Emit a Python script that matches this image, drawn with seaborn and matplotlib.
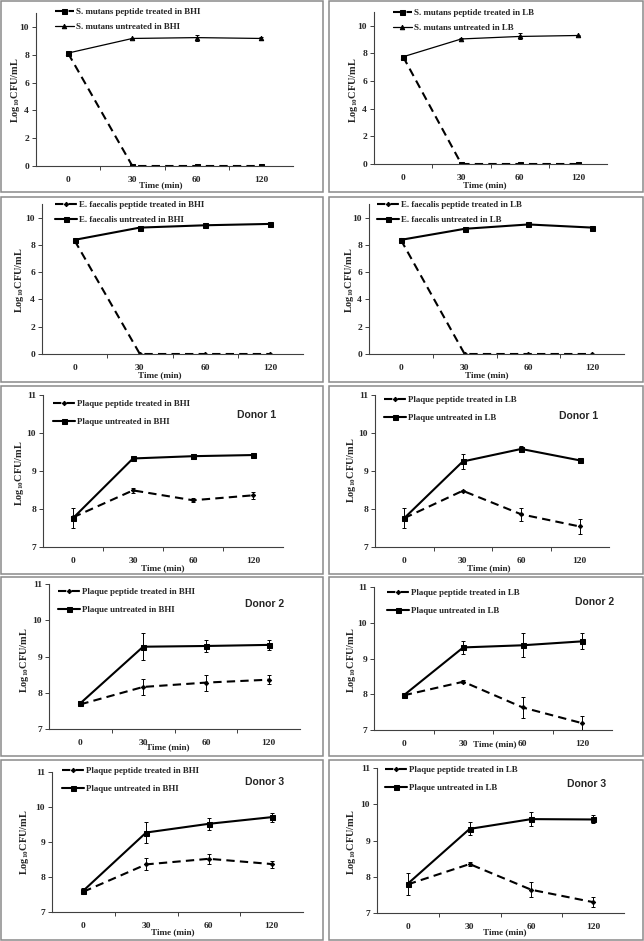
import numpy as np
import matplotlib
matplotlib.use("Agg")
import matplotlib.pyplot as plt
import seaborn as sns
from matplotlib.patches import Rectangle

# time points (categorical axis)
times = ["0", "30", "60", "120"]

# S. mutans
smut_bhi_peptide = [8.1, 0.0, 0.0, 0.0]
smut_bhi_untreated = [8.12, 9.17, 9.23, 9.17]
smut_bhi_untreated_err = [0.0, 0.04, 0.22, 0.1]
smut_lb_peptide = [7.76, 0.0, 0.0, 0.0]
smut_lb_untreated = [7.76, 9.05, 9.23, 9.3]
smut_lb_untreated_err = [0.0, 0.04, 0.22, 0.05]

# E. faecalis
efae_bhi_peptide = [8.32, 0.0, 0.0, 0.0]
efae_bhi_untreated = [8.37, 9.27, 9.44, 9.54]
efae_lb_peptide = [8.37, 0.0, 0.0, 0.0]
efae_lb_untreated = [8.37, 9.18, 9.5, 9.27]
zero_err = [0.0, 0.0, 0.0, 0.0]

# plaque, donor 1
d1_bhi_peptide = [7.78, 8.49, 8.23, 8.36]
d1_bhi_peptide_err = [0.03, 0.07, 0.05, 0.1]
d1_bhi_untreated = [7.76, 9.33, 9.39, 9.42]
d1_bhi_untreated_err = [0.26, 0.04, 0.07, 0.04]
d1_lb_peptide = [7.76, 8.48, 7.86, 7.54]
d1_lb_peptide_err = [0.03, 0.03, 0.17, 0.2]
d1_lb_untreated = [7.76, 9.25, 9.58, 9.28]
d1_lb_untreated_err = [0.27, 0.21, 0.09, 0.02]

# plaque, donor 2
d2_bhi_peptide = [7.68, 8.16, 8.28, 8.36]
d2_bhi_peptide_err = [0.03, 0.21, 0.22, 0.12]
d2_bhi_untreated = [7.71, 9.27, 9.29, 9.32]
d2_bhi_untreated_err = [0.05, 0.37, 0.16, 0.13]
d2_lb_peptide = [7.97, 8.35, 7.63, 7.19]
d2_lb_peptide_err = [0.03, 0.04, 0.3, 0.2]
d2_lb_untreated = [7.97, 9.31, 9.37, 9.48]
d2_lb_untreated_err = [0.04, 0.19, 0.33, 0.22]

# plaque, donor 3
d3_bhi_peptide = [7.58, 8.36, 8.52, 8.37]
d3_bhi_peptide_err = [0.05, 0.17, 0.14, 0.1]
d3_bhi_untreated = [7.61, 9.27, 9.52, 9.71]
d3_bhi_untreated_err = [0.08, 0.29, 0.18, 0.13]
d3_lb_peptide = [7.79, 8.35, 7.64, 7.3]
d3_lb_peptide_err = [0.05, 0.06, 0.21, 0.14]
d3_lb_untreated = [7.81, 9.32, 9.59, 9.58]
d3_lb_untreated_err = [0.3, 0.18, 0.2, 0.11]

W, H = 644, 941

sns.set_style("white")
plt.rcParams["font.family"] = ["Liberation Serif", "DejaVu Serif"]
plt.rcParams["font.weight"] = "bold"
plt.rcParams["mathtext.fontset"] = "custom"
plt.rcParams["mathtext.rm"] = "Liberation Serif:bold"
plt.rcParams["mathtext.default"] = "rm"

fig = plt.figure(figsize=(W / 100, H / 100), dpi=100)


def fx(px):
    return px / W


def fy(py):
    return 1 - py / H


# layout in pixels: axes (l, t, r, b), box (l, t, r, b), legend (x, top), ylabel (x, y), xlabel (x, y), donor text (x, y)
panels = [
    dict(ax=(36, 13, 293, 166), box=(1, 1, 323, 192), leg=(55, 8), yl=(15, 90), xl=(161, 185),
         pep=smut_bhi_peptide, pep_err=zero_err, unt=smut_bhi_untreated, unt_err=smut_bhi_untreated_err,
         labels=("S. mutans peptide treated in BHI", "S. mutans untreated in BHI"), kind="smut"),
    dict(ax=(374, 12, 607, 164), box=(329, 1, 643, 192), leg=(393, 9), yl=(354, 90), xl=(485, 185),
         pep=smut_lb_peptide, pep_err=zero_err, unt=smut_lb_untreated, unt_err=smut_lb_untreated_err,
         labels=("S. mutans peptide treated in LB", "S. mutans untreated in LB"), kind="smut"),
    dict(ax=(42, 204, 303, 354), box=(1, 197, 323, 382), leg=(55, 201), yl=(20, 280), xl=(160, 375),
         pep=efae_bhi_peptide, pep_err=zero_err, unt=efae_bhi_untreated, unt_err=zero_err,
         labels=("E. faecalis peptide treated in BHI", "E. faecalis untreated in BHI"), kind="efae"),
    dict(ax=(369, 204, 624, 354), box=(329, 197, 643, 382), leg=(377, 201), yl=(349, 280), xl=(487, 375),
         pep=efae_lb_peptide, pep_err=zero_err, unt=efae_lb_untreated, unt_err=zero_err,
         labels=("E. faecalis peptide treated in LB", "E. faecalis untreated in LB"), kind="efae"),
    dict(ax=(43, 395, 283, 547), box=(1, 386, 323, 574), leg=(53, 400), yl=(20, 473), xl=(163, 568),
         pep=d1_bhi_peptide, pep_err=d1_bhi_peptide_err, unt=d1_bhi_untreated, unt_err=d1_bhi_untreated_err,
         labels=("Plaque peptide treated in BHI", "Plaque untreated in BHI"), kind="plaque",
         donor="Donor 1", dpos=(257, 415)),
    dict(ax=(375, 395, 609, 547), box=(329, 386, 643, 574), leg=(384, 396), yl=(352, 470), xl=(489, 568),
         pep=d1_lb_peptide, pep_err=d1_lb_peptide_err, unt=d1_lb_untreated, unt_err=d1_lb_untreated_err,
         labels=("Plaque peptide treated in LB", "Plaque untreated in LB"), kind="plaque",
         donor="Donor 1", dpos=(579, 416)),
    dict(ax=(49, 584, 300, 729), box=(1, 577, 323, 756), leg=(58, 588), yl=(25, 660), xl=(168, 747),
         pep=d2_bhi_peptide, pep_err=d2_bhi_peptide_err, unt=d2_bhi_untreated, unt_err=d2_bhi_untreated_err,
         labels=("Plaque peptide treated in BHI", "Plaque untreated in BHI"), kind="plaque",
         donor="Donor 2", dpos=(265, 604)),
    dict(ax=(374, 587, 612, 730), box=(329, 577, 643, 756), leg=(387, 589), yl=(352, 660), xl=(495, 744),
         pep=d2_lb_peptide, pep_err=d2_lb_peptide_err, unt=d2_lb_untreated, unt_err=d2_lb_untreated_err,
         labels=("Plaque peptide treated in LB", "Plaque untreated in LB"), kind="plaque",
         donor="Donor 2", dpos=(595, 602)),
    dict(ax=(52, 772, 303, 912), box=(1, 760, 323, 940), leg=(62, 767), yl=(25, 842), xl=(173, 932),
         pep=d3_bhi_peptide, pep_err=d3_bhi_peptide_err, unt=d3_bhi_untreated, unt_err=d3_bhi_untreated_err,
         labels=("Plaque peptide treated in BHI", "Plaque untreated in BHI"), kind="plaque",
         donor="Donor 3", dpos=(265, 782)),
    dict(ax=(377, 768, 624, 913), box=(329, 760, 643, 940), leg=(385, 766), yl=(352, 842), xl=(505, 932),
         pep=d3_lb_peptide, pep_err=d3_lb_peptide_err, unt=d3_lb_untreated, unt_err=d3_lb_untreated_err,
         labels=("Plaque peptide treated in LB", "Plaque untreated in LB"), kind="plaque",
         donor="Donor 3", dpos=(587, 784)),
]

x = np.arange(len(times))

for p in panels:
    l, t, r, b = p["ax"]
    ax = fig.add_axes([fx(l), fy(b), fx(r - l), (b - t) / H])

    if p["kind"] == "smut":
        pep_marker, pep_ms = "s", 3.6
        unt_marker, unt_ms, unt_lw = "^", 3.2, 0.9
    else:
        pep_marker, pep_ms = "D", 2.2
        unt_marker, unt_ms, unt_lw = "s", 3.6, 1.5

    sns.lineplot(x=x, y=p["pep"], ax=ax, color="k", lw=1.5, linestyle=(0, (4, 2.5)),
                 marker=pep_marker, ms=pep_ms, mec="k", mfc="k", label=p["labels"][0])
    sns.lineplot(x=x, y=p["unt"], ax=ax, color="k", lw=unt_lw,
                 marker=unt_marker, ms=unt_ms, mec="k", mfc="k", label=p["labels"][1])
    ax.errorbar(x, p["pep"], yerr=p["pep_err"], fmt="none", ecolor="k", elinewidth=0.7, capsize=1.6, capthick=0.7)
    ax.errorbar(x, p["unt"], yerr=p["unt_err"], fmt="none", ecolor="k", elinewidth=0.7, capsize=1.6, capthick=0.7)

    if p["kind"] == "plaque":
        ax.set_ylim(7, 11)
        ax.set_yticks([7, 8, 9, 10, 11])
    else:
        ax.set_ylim(0, 11)
        ax.set_yticks([0, 2, 4, 6, 8, 10])
    ax.set_xlim(-0.5, 3.5)
    ax.set_xticks(x, times)
    ax.set_xticks([0.5, 1.5, 2.5], minor=True)

    ax.tick_params(axis="x", which="major", bottom=False, labelsize=6.8, pad=4)
    ax.tick_params(axis="x", which="minor", bottom=True, length=3, width=0.7, direction="out", color="#404040")
    ax.tick_params(axis="y", left=True, length=3, width=0.7, direction="out", labelsize=6.8, pad=2, color="#404040")
    for lab in ax.get_xticklabels() + ax.get_yticklabels():
        lab.set_fontweight("bold")

    sns.despine(ax=ax)
    for s in ("left", "bottom"):
        ax.spines[s].set_color("#404040")
        ax.spines[s].set_linewidth(0.8)
    ax.patch.set_alpha(0)

    ax.set_ylabel(r"Log$_{10}$CFU/mL", fontsize=7.4, fontweight="bold")
    ax.yaxis.set_label_coords(fx(p["yl"][0]), fy(p["yl"][1]), transform=fig.transFigure)
    ax.yaxis.label.set_va("center")
    ax.set_xlabel("Time (min)", fontsize=6.6, fontweight="bold")
    ax.xaxis.set_label_coords(fx(p["xl"][0]), fy(p["xl"][1]), transform=fig.transFigure)
    ax.xaxis.label.set_va("center")

    spacing = 0.75 if p["kind"] != "plaque" else 1.05
    hlen = 2.1 if p["kind"] == "smut" else 2.5
    ax.legend(loc="upper left", bbox_to_anchor=(fx(p["leg"][0]), fy(p["leg"][1])),
              bbox_transform=fig.transFigure, frameon=False, borderpad=0, borderaxespad=0,
              handlelength=hlen, handletextpad=0.25, labelspacing=spacing,
              prop={"family": "Liberation Serif", "weight": "bold", "size": 6.4})

    if "donor" in p:
        fig.text(fx(p["dpos"][0]), fy(p["dpos"][1]), p["donor"], ha="center", va="center",
                 fontsize=7.5, fontweight="bold", family=["Liberation Sans", "DejaVu Sans"])

    bl, bt, br, bb = p["box"]
    fig.add_artist(Rectangle((fx(bl), fy(bb)), fx(br - bl), (bb - bt) / H, transform=fig.transFigure,
                             fill=False, edgecolor="#8a8a8a", lw=1.1, zorder=10))

fig.savefig("out.png", dpi=100)
